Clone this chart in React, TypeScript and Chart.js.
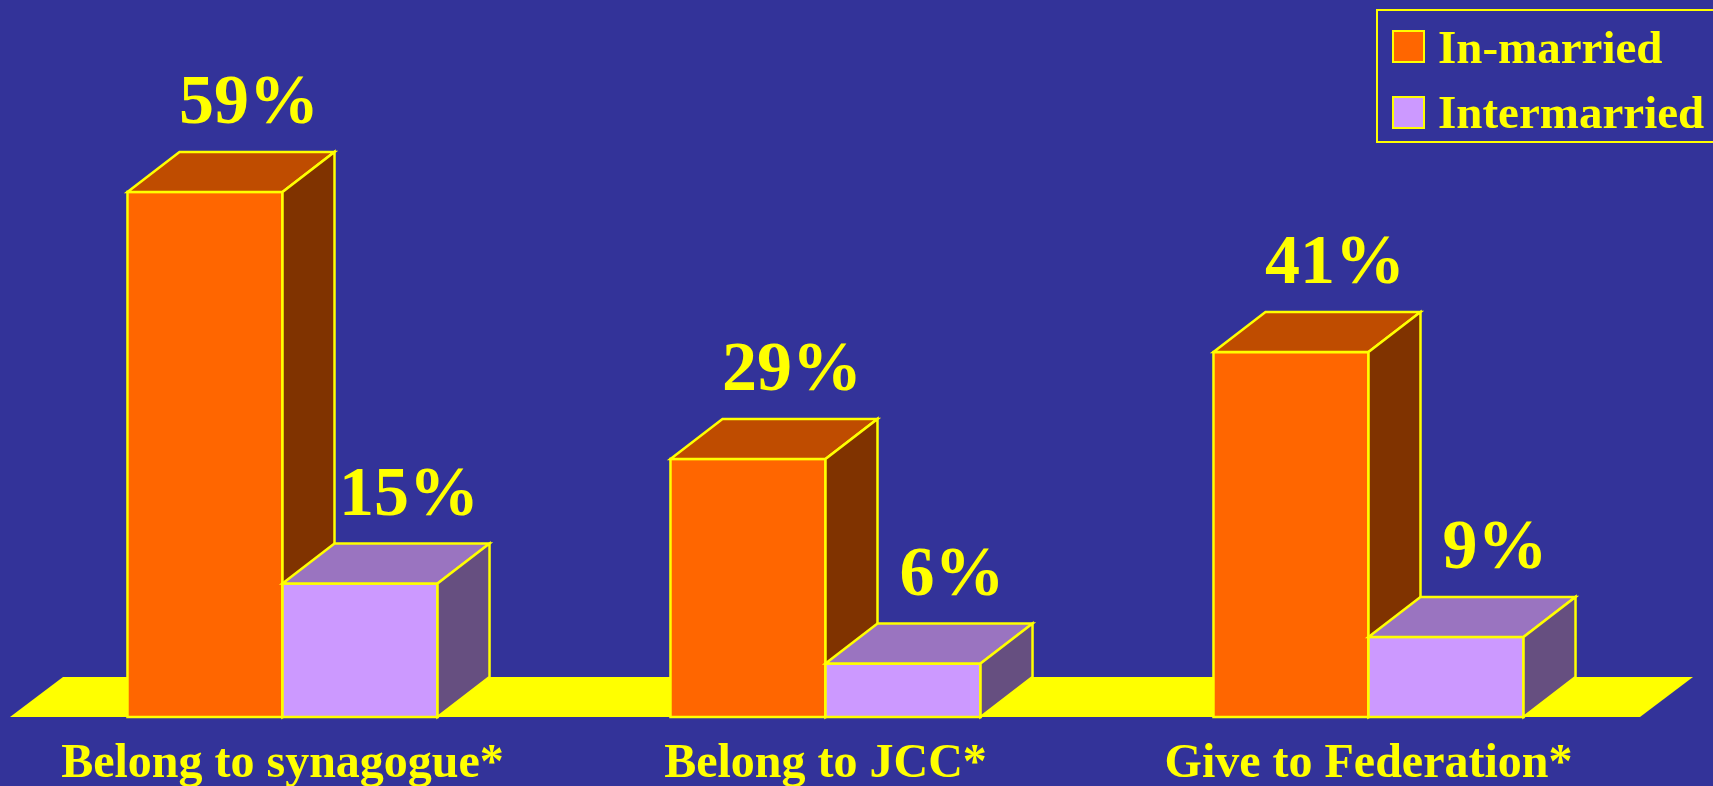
import React, { useEffect, useRef } from "react";
import { Chart, registerables } from "chart.js";

Chart.register(...registerables);

const categories = ["Belong to synagogue*", "Belong to JCC*", "Give to Federation*"];
const seriesNames = ["In-married", "Intermarried"];
const inMarried = [59, 29, 41];
const intermarried = [15, 6, 9];

const BG = "#333399";
const YELLOW = "#FFFF00";
const FRONT = ["#FF6600", "#CC99FF"];
const TOP = ["#BF4C00", "#9A74C0"];
const SIDE = ["#803300", "#664F80"];
const LABEL_DX = [44, 49];
const DX = 52;
const DY = -40;
const FONT = "'Liberation Serif', 'Times New Roman', serif";

const threeD = {
  id: "threeD",
  beforeDraw(chart: any) {
    const { ctx, width, height } = chart;
    ctx.save();
    ctx.fillStyle = BG;
    ctx.fillRect(0, 0, width, height);
    ctx.restore();
  },
  beforeDatasetsDraw(chart: any) {
    const { ctx, chartArea } = chart;
    const yb = chartArea.bottom;
    const l = chartArea.left - 1;
    const r = chartArea.right;
    ctx.save();
    ctx.fillStyle = YELLOW;
    ctx.beginPath();
    ctx.moveTo(l, yb);
    ctx.lineTo(r, yb);
    ctx.lineTo(r + DX + 1, yb + DY);
    ctx.lineTo(l + DX + 1, yb + DY);
    ctx.closePath();
    ctx.fill();
    ctx.restore();
  },
  afterDatasetsDraw(chart: any) {
    const { ctx } = chart;
    const n = chart.data.labels.length;
    ctx.save();
    ctx.lineWidth = 2.5;
    ctx.strokeStyle = YELLOW;
    ctx.lineJoin = "miter";
    for (let i = 0; i < n; i++) {
      for (let d = 0; d < chart.data.datasets.length; d++) {
        const el = chart.getDatasetMeta(d).data[i];
        const { x, y, base, width } = el.getProps(["x", "y", "base", "width"], true);
        const left = x - width / 2;
        const right = x + width / 2;
        ctx.fillStyle = FRONT[d];
        ctx.fillRect(left, y, right - left, base - y);
        ctx.strokeRect(left, y, right - left, base - y);
        ctx.fillStyle = TOP[d];
        ctx.beginPath();
        ctx.moveTo(left, y);
        ctx.lineTo(left + DX, y + DY);
        ctx.lineTo(right + DX, y + DY);
        ctx.lineTo(right, y);
        ctx.closePath();
        ctx.fill();
        ctx.stroke();
        ctx.fillStyle = SIDE[d];
        ctx.beginPath();
        ctx.moveTo(right, y);
        ctx.lineTo(right + DX, y + DY);
        ctx.lineTo(right + DX, base + DY);
        ctx.lineTo(right, base);
        ctx.closePath();
        ctx.fill();
        ctx.stroke();
      }
    }
    ctx.fillStyle = YELLOW;
    ctx.font = `bold 70px ${FONT}`;
    ctx.textAlign = "center";
    ctx.textBaseline = "alphabetic";
    chart.data.datasets.forEach((ds: any, d: number) => {
      const meta = chart.getDatasetMeta(d);
      meta.data.forEach((el: any, i: number) => {
        const { x, y } = el.getProps(["x", "y"], true);
        ctx.fillText(`${ds.data[i]}%`, x + LABEL_DX[d], y + DY - 29);
      });
    });
    const xs = chart.scales.x;
    ctx.font = `bold 48px ${FONT}`;
    chart.data.labels.forEach((lab: string, i: number) => {
      ctx.fillText(lab, xs.getPixelForValue(i), 777);
    });
    ctx.lineWidth = 2;
    ctx.strokeStyle = YELLOW;
    ctx.strokeRect(1377, 10, 360, 132);
    ctx.font = `bold 47px ${FONT}`;
    ctx.textAlign = "left";
    const rows = [
      { top: 31, base: 63 },
      { top: 97, base: 128 },
    ];
    chart.data.datasets.forEach((ds: any, d: number) => {
      const r = rows[d];
      ctx.fillStyle = FRONT[d];
      ctx.fillRect(1393, r.top, 31, 31);
      ctx.strokeRect(1393, r.top, 31, 31);
      ctx.fillStyle = YELLOW;
      ctx.fillText(ds.label, 1438, r.base);
    });
    ctx.restore();
  },
};

export default function App() {
  const ref = useRef<HTMLCanvasElement>(null);
  useEffect(() => {
    if (!ref.current) return;
    const chart = new Chart(ref.current, {
      type: "bar",
      data: {
        labels: categories,
        datasets: [
          { label: seriesNames[0], data: inMarried, backgroundColor: FRONT[0] },
          { label: seriesNames[1], data: intermarried, backgroundColor: FRONT[1] },
        ],
      },
      options: {
        responsive: false,
        animation: false,
        devicePixelRatio: 1,
        layout: { padding: { left: 11, right: 73, top: 5, bottom: 69 } },
        datasets: { bar: { categoryPercentage: 0.571, barPercentage: 1 } },
        scales: {
          x: { display: false },
          y: { display: false, min: 0, max: 80 },
        },
        plugins: { legend: { display: false }, tooltip: { enabled: false } },
      },
      plugins: [threeD],
    });
    return () => chart.destroy();
  }, []);
  return (
    <div style={{ position: "fixed", left: 0, top: 0, width: 1713, height: 786, background: BG }}>
      <canvas ref={ref} width={1713} height={786} style={{ display: "block" }} />
    </div>
  );
}
